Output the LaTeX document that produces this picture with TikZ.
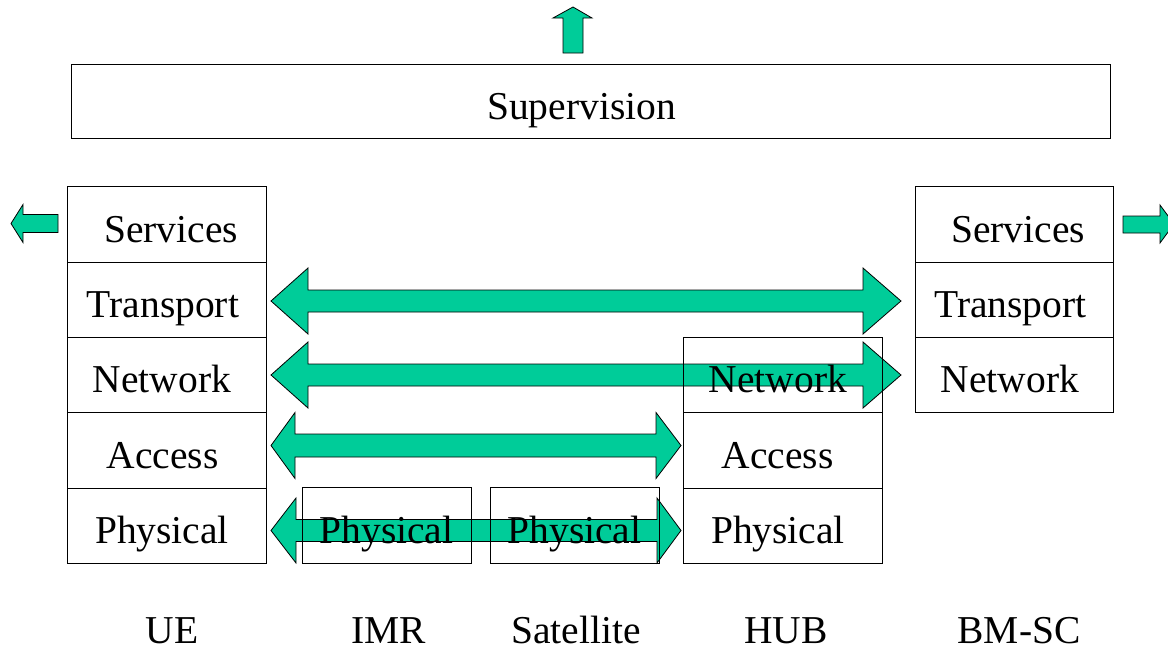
\documentclass[tikz,border=0pt]{standalone}
\usepackage{fontspec}
\setmainfont{Liberation Serif}
\definecolor{flow}{RGB}{0,204,153}
\tikzset{
  cell/.style={draw=black, line width=1pt, inner sep=0pt, outer sep=0pt, rectangle},
  lbl/.style={anchor=base, inner sep=0pt, font=\fontsize{39.5}{42}\selectfont},
  blockarrow/.style={fill=flow, draw=black, line width=0.8pt, line join=miter},
}
% double-headed block arrow: y, left tip x, left head back x, right head back x, right tip x, head half height, shaft half height
\newcommand\dblarrow[7]{%
  \draw[blockarrow] (#2,#1) -- (#3,#1-#6) -- (#3,#1-#7) -- (#4,#1-#7) -- (#4,#1-#6)
    -- (#5,#1) -- (#4,#1+#6) -- (#4,#1+#7) -- (#3,#1+#7) -- (#3,#1+#6) -- cycle;}
\begin{document}
\begin{tikzpicture}[x=1pt, y=-1pt]
\useasboundingbox (0,0) rectangle (1168,651);

% outward arrows
\draw[blockarrow] (573,7) -- (592,18) -- (583,18) -- (583,53) -- (563,53) -- (563,18) -- (553,18) -- cycle;
\draw[blockarrow] (11,223.5) -- (23,204.5) -- (23,214.5) -- (58,214.5) -- (58,232.5) -- (23,232.5) -- (23,242.5) -- cycle;
\begin{scope}
  \clip (1100,180) rectangle (1168,260);
  \draw[blockarrow] (1174,224) -- (1160,205) -- (1160,216) -- (1123,216) -- (1123,233) -- (1160,233) -- (1160,243) -- cycle;
\end{scope}

% peer-to-peer arrows between layers
\dblarrow{301}{271}{308}{863}{901}{33}{11}
\dblarrow{375}{271}{308}{863}{901}{33}{11}
\dblarrow{445.5}{271}{295}{656}{681}{33}{11.5}
\dblarrow{530.5}{271}{296}{657}{681}{32.5}{11}

% supervision
\node[cell, minimum width=1039pt, minimum height=74pt] (sup) at (590.5,101) {};
\node[lbl] (supT) at (581.5,119) {Supervision};

% UE stack
\node[cell, minimum width=199pt, minimum height=76pt] (ueS) at (166.5,224) {};
\node[cell, minimum width=199pt, minimum height=75pt] (ueT) at (166.5,299.5) {};
\node[cell, minimum width=199pt, minimum height=75pt] (ueN) at (166.5,374.5) {};
\node[cell, minimum width=199pt, minimum height=76pt] (ueA) at (166.5,450) {};
\node[cell, minimum width=199pt, minimum height=75pt] (ueP) at (166.5,525.5) {};
\node[lbl] at (171,242) {Services};
\node[lbl] at (163,317.5) {Transport};
\node[lbl] at (162,392.5) {Network};
\node[lbl] at (162.5,468) {Access};
\node[lbl] at (162,543.5) {Physical};

% IMR and satellite
\node[cell, minimum width=169pt, minimum height=76pt] (imrP) at (386.5,525) {};
\node[cell, minimum width=169pt, minimum height=76pt] (satP) at (574.5,525) {};
\node[lbl] at (386.5,543.5) {Physical};
\node[lbl] at (574.5,543.5) {Physical};

% HUB stack
\node[cell, minimum width=199pt, minimum height=75pt] (hubN) at (782.5,374.5) {};
\node[cell, minimum width=199pt, minimum height=76pt] (hubA) at (782.5,450) {};
\node[cell, minimum width=199pt, minimum height=75pt] (hubP) at (782.5,525.5) {};
\node[lbl] at (778,392.5) {Network};
\node[lbl] at (777.5,468) {Access};
\node[lbl] at (778,543.5) {Physical};

% BM-SC stack
\node[cell, minimum width=198pt, minimum height=76pt] (bmS) at (1014,224) {};
\node[cell, minimum width=198pt, minimum height=75pt] (bmT) at (1014,299.5) {};
\node[cell, minimum width=198pt, minimum height=75pt] (bmN) at (1014,374.5) {};
\node[lbl] at (1018,242) {Services};
\node[lbl] at (1010.5,317.5) {Transport};
\node[lbl] at (1010,392.5) {Network};

% entity names
\node[lbl] (nUE) at (172,643.5) {UE};
\node[lbl] (nIMR) at (389,643.5) {IMR};
\node[lbl] (nSat) at (576,643.5) {Satellite};
\node[lbl] (nHUB) at (786,643.5) {HUB};
\node[lbl] (nBM) at (1019,643.5) {BM-SC};
\end{tikzpicture}
\end{document}
